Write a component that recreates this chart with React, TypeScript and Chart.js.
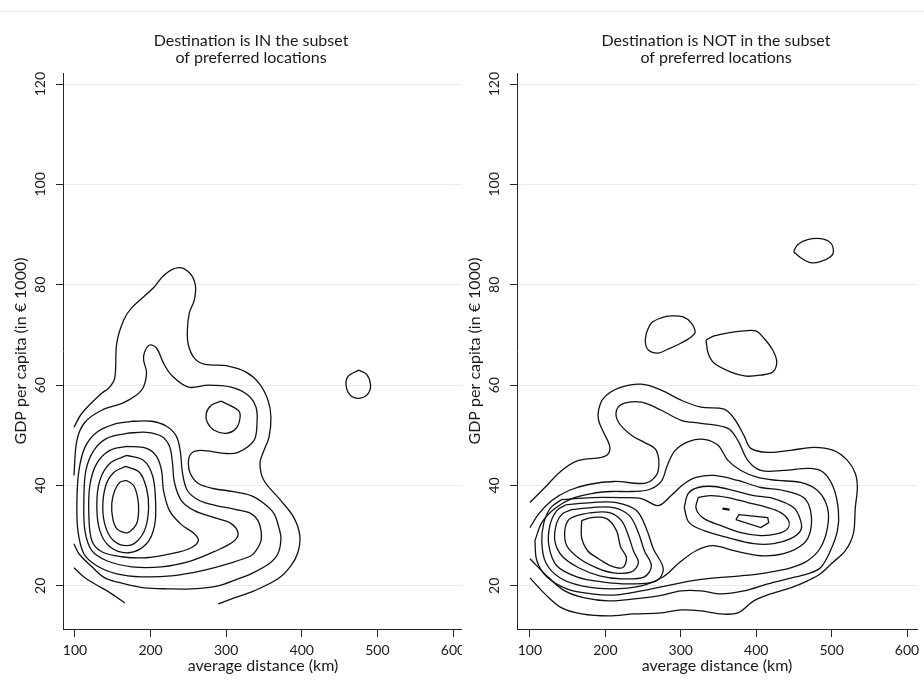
import React, { useEffect, useRef } from "react";
import { Chart, registerables } from "chart.js";
Chart.register(...registerables);

type P = [number, number];

const FONT = "Lato";
const TEXT = "#1a1a1a";
const AXIS = "#262626";
const GRID = "#e3ecee";
const LINE = "#111111";

const xTicks = [100, 200, 300, 400, 500, 600];
const yTicks = [20, 40, 60, 80, 100, 120];
const yMin = 11.4;
const yMax = 122.2;

const titleIn = ["Destination is IN the subset", "of preferred locations"];
const titleOut = ["Destination is NOT in the subset", "of preferred locations"];
const xTitle = "average distance (km)";
const yTitle = "GDP per capita (in \u20ac 1000)";

// ---------- Left panel: destination IN the subset ----------
const inLevel1a: P[] = [[98.7,51.6],[109.2,54.4],[135.5,58.4],[144.7,59.4],[152.6,61.4],[155.3,68.4],[164.5,73],[175,75.4],[203.9,79.4],[218.4,82],[236.8,83.4],[251.3,82.4],[259.2,80],[257.9,77],[251.3,74.4],[248.7,71],[250,68],[257.9,65.4],[271.1,64.2],[302.6,63.8],[326.3,62.6],[343.4,60.4],[355.3,57],[359.2,53.6],[356.6,49.6],[350,47],[344.7,44.4],[350,41],[372.4,37],[389.5,33.6],[397.4,30],[394.7,26.6],[385.5,24],[368.4,21.4],[336.8,19],[310.5,17.6],[289.5,16.4]];
const inLevel1b: P[] = [[98.7,23.6],[113.2,21.6],[135.5,19.6],[148.7,18.4],[165.8,16.6]];
const inLevel2: P[] = [[98.7,42],[102.6,49],[113.2,52.6],[135.5,55],[165.8,56.6],[188.2,59],[194.7,62.4],[190.8,65],[192.1,66.6],[198.7,68],[207.9,67.4],[217.1,64.4],[227.6,62],[250,59.6],[276.3,60],[306.6,59.6],[328.9,58],[339.5,55.6],[340.8,52.4],[336.8,49],[315.8,46.6],[297.4,46.4],[267.1,47],[253.9,46.4],[250,44.6],[252.6,42.4],[263.2,40.4],[282.9,39.4],[309.2,38.8],[332.9,38],[350,36.4],[363.2,34.4],[369.7,31.6],[372.4,29.4],[368.4,26.4],[356.6,24.4],[332.9,22.4],[315.8,21.4],[289.5,20],[253.9,19.4],[223.7,19.4],[192.1,19.6],[165.8,20.4],[139.5,21.6],[122.4,23.8],[105.3,26.4],[98.7,28.4]];
const inLevel3: P[] = [[175,52.8],[201.3,52.8],[221.1,51.8],[234.2,49.8],[239.5,46.6],[242.1,42.6],[248.7,39],[264.5,37],[286.8,36],[313.2,35.2],[332.9,34.4],[342.1,33],[346.1,31],[346.1,29],[339.5,27],[332.9,26],[306.6,24.6],[267.1,23],[227.6,22],[188.2,21.8],[155.3,22.4],[128.9,24],[111.8,26.4],[103.9,31],[102.6,37],[105.3,43],[113.2,47.6],[128.9,50.6],[151.3,52.2]];
const inLevel4: P[] = [[168.4,50.4],[194.7,50.6],[214.5,49.8],[225,47.8],[228.9,44.6],[231.6,40.6],[240.8,37],[257.9,35],[284.2,33.6],[306.6,32.4],[315.8,30.4],[309.2,28.8],[286.8,27],[253.9,25],[214.5,23.8],[175,23.8],[142.1,25],[122.4,27],[113.2,31],[111.8,37],[114.5,43],[125,47],[142.1,49.4]];
const inLevel5: P[] = [[168.4,47.8],[194.7,47.4],[207.9,45.8],[214.5,43],[217.1,39],[225,35],[240.8,32.2],[257.9,30.4],[263.2,29],[253.9,27.6],[227.6,26.4],[194.7,25.6],[161.8,25.8],[135.5,26.8],[122.4,29],[118.4,34],[119.7,40],[128.9,44.4],[146.1,47]];
const inLevel6: P[] = [[168.4,46],[190.8,45],[202.6,42],[206.6,37],[205.3,32],[194.7,28.4],[171.1,26.6],[146.1,27.8],[132.9,31],[128.9,36],[132.9,41],[146.1,44.4]];
const inLevel7: P[] = [[167.1,43.8],[185.5,42.6],[194.7,39.4],[197.4,35.6],[193.4,31.6],[182.9,29],[168.4,28],[151.3,29],[140.8,31.6],[136.8,35.6],[140.8,40],[151.3,42.6]];
const inLevel8: P[] = [[168.4,41],[177.6,40],[182.9,37.6],[184.2,35],[181.6,32.4],[172.4,30.8],[165.8,30.6],[155.3,31.4],[150,33.4],[148.7,36.4],[152.6,39],[159.2,40.6]];
const inIslandA: P[] = [[293.4,56.8],[315.8,55],[318.4,53.6],[313.2,51.4],[300,50.4],[284.2,51],[275,52.6],[273.7,54.4],[280.3,56]];
const inIslandB: P[] = [[475,63],[485.5,62.2],[490.8,60.2],[488.2,58.4],[477.6,57.4],[465.8,57.8],[459.2,59.4],[460.5,61.6]];

// ---------- Right panel: destination NOT in the subset ----------
const outLevel1: P[] = [[100,36.6],[119.8,39.6],[142.2,43],[164.6,45],[195,45.6],[204.2,46.4],[205.5,48],[197.6,50.6],[191,53],[191,55],[197.6,57.4],[217.4,59.4],[247.8,60.2],[274.1,59],[300.5,57],[326.9,55.6],[357.3,55.2],[370.5,53.4],[383.7,50],[392.9,47.4],[415.3,46.6],[445.7,47],[476,47.6],[502.4,47],[520.9,45],[531.4,42.4],[534.1,39.6],[531.4,35.6],[528.8,30.4],[518.2,27],[501.1,24.6],[485.2,22.4],[468.1,21],[445.7,19.6],[419.3,18.4],[396.8,17],[375.7,14.6],[353.3,14.4],[326.9,15],[300.5,15.2],[274.1,14.6],[238.5,14.4],[204.2,14],[168.6,14.4],[142.2,15.6],[119.8,18.4],[100,21.6]];
const outLevel2: P[] = [[100,31.6],[111.9,34.4],[129,37],[151.5,39],[177.8,40.2],[212.1,40.8],[247.8,40.4],[261,41],[270.2,43],[267.5,47],[251.7,48.6],[234.6,50],[217.4,52.6],[214.8,55],[225.3,56.4],[247.8,56.6],[274.1,55],[300.5,53],[326.9,52.4],[362.5,51.4],[375.7,49],[388.9,45],[406.1,43],[436.4,43],[472,43.4],[489.2,42.6],[502.4,39.6],[509,35],[507.7,31],[498.4,27],[485.2,23.6],[468.1,22.4],[441.7,21.4],[415.3,20.4],[383.7,19],[353.3,18.4],[326.9,19],[300.5,19],[270.2,18],[238.5,17.4],[204.2,17],[172.6,17.6],[146.2,19],[125.1,21.6],[100,25.4]];
const outLevel3: P[] = [[106.6,29],[115.8,32.6],[133,35.4],[155.4,37.4],[181.8,38.4],[208.2,38.8],[234.6,38.8],[258.3,39.2],[274.1,40.8],[282.1,44],[292.6,47],[311.1,48.8],[330.9,49.2],[349.4,48],[362.5,45],[379.7,43],[402.1,41.6],[428.5,41],[458.9,40.6],[481.3,39],[494.5,35.6],[494.5,31.6],[485.2,27.6],[468.1,25],[445.7,23.6],[412.7,22.6],[379.7,22],[346.7,21.6],[313.7,21],[280.7,20],[247.8,19],[214.8,18.2],[181.8,18.4],[148.8,19.4],[122.4,21.8],[109.2,25]];
const outLevel4: P[] = [[142.2,37.2],[181.8,37.6],[221.4,37.6],[247.8,37.4],[270.2,36],[287.3,38],[303.2,40.2],[320.3,41.6],[344.1,42],[375.7,41],[406.1,39.6],[436.4,39],[462.8,37.6],[472,35],[472,31],[462.8,28.4],[436.4,26.4],[406.1,26],[370.5,27],[342.8,28],[320.3,27],[297.9,24.6],[276.8,21.8],[247.8,20],[208.2,19.4],[168.6,20],[139.6,21.6],[121.1,24.6],[115.8,28.6],[118.5,32.6],[127.7,35.6]];
const outLevel5L: P[] = [[148.8,36.2],[181.8,36.6],[214.8,36.6],[241.2,35],[254.4,31.4],[263.6,27.4],[276.8,23.4],[267.5,21],[234.6,20.4],[195,20.8],[162,21.8],[135.6,24],[125.1,28],[126.4,32],[135.6,35]];
const outLevel6L: P[] = [[155.4,35.2],[181.8,35.6],[210.8,35.6],[231.9,34],[243.8,30.6],[251.7,27],[261,24],[251.7,21.8],[221.4,21.4],[192.4,22],[164.6,23.6],[142.2,26],[133,29],[135.6,32.6],[143.5,34.4]];
const outLevel7L: P[] = [[162,34],[181.8,34.6],[205.5,34.6],[221.4,33],[230.6,30],[237.2,27],[243.8,24.6],[234.6,22.8],[210.8,22.6],[188.4,23.6],[166,25.4],[148.8,28],[146.2,31],[151.5,33.2]];
const outLevel8L: P[] = [[168.6,33],[181.8,33.6],[201.6,33.4],[214.8,31],[220.1,27.8],[228,25.6],[222.7,23.6],[206.9,24],[191,25.4],[176.5,27],[168.6,29.6]];
const outLevel5R: P[] = [[304.5,35.6],[309.8,38.4],[323,39.6],[344.1,39.8],[370.5,39],[396.8,38],[423.2,37.4],[449.6,35.6],[458.9,33],[458.9,31],[445.7,29.4],[423.2,28.4],[396.8,28.4],[362.5,29.6],[330.9,31],[311.1,32.6]];
const outLevel6R: P[] = [[323,37.6],[340.1,38],[362.5,37.6],[388.9,36.6],[415.3,35.6],[432.5,34.6],[443,33],[441.7,31.4],[428.5,30.4],[406.1,30],[379.7,30.6],[353.3,32],[330.9,33.4],[320.3,35.4]];
const outLevel7R: P[] = [[373.1,33.2],[377.1,34.2],[415.3,33.6],[416.6,32.6],[406.1,31.6]];
const outLevel7Rb: P[] = [[356,35.5],[363.9,35.3],[363.9,35.1],[356,35.3]];
const outIsland1: P[] = [[449.6,86.6],[454.9,88],[468.1,89],[485.2,89.2],[498.4,88.4],[502.4,86.6],[498.4,85.6],[485.2,84.6],[472,84.4],[458.9,85.4]];
const outIsland2: P[] = [[254.4,70.4],[261,72.4],[274.1,73.4],[287.3,73.8],[303.2,73.6],[313.7,72.4],[319,70.6],[313.7,69.6],[300.5,68.4],[283.4,67.2],[270.2,66.4],[257,67],[253,68.6]];
const outIsland3: P[] = [[333.5,69],[344.1,69.8],[362.5,70.4],[383.7,70.8],[399.5,70.8],[410,69.4],[421.9,67],[427.2,64.6],[421.9,62.6],[406.1,62],[386.3,61.8],[366.5,62.6],[344.1,64.4],[336.2,66.4]];

type Line = { pts: P[]; closed: boolean; tension?: number };

const linesIn: Line[] = [
  { pts: inLevel1a, closed: false },
  { pts: inLevel1b, closed: false },
  { pts: inLevel2, closed: false },
  { pts: inLevel3, closed: true },
  { pts: inLevel4, closed: true },
  { pts: inLevel5, closed: true },
  { pts: inLevel6, closed: true },
  { pts: inLevel7, closed: true },
  { pts: inLevel8, closed: true },
  { pts: inIslandA, closed: true },
  { pts: inIslandB, closed: true },
];

const linesOut: Line[] = [
  { pts: outLevel1, closed: false },
  { pts: outLevel2, closed: false },
  { pts: outLevel3, closed: true },
  { pts: outLevel4, closed: true },
  { pts: outLevel5L, closed: true },
  { pts: outLevel6L, closed: true },
  { pts: outLevel7L, closed: true },
  { pts: outLevel8L, closed: true },
  { pts: outLevel5R, closed: true },
  { pts: outLevel6R, closed: true },
  { pts: outLevel7R, closed: true, tension: 0 },
  { pts: outLevel7Rb, closed: true, tension: 0 },
  { pts: outIsland1, closed: true },
  { pts: outIsland2, closed: true },
  { pts: outIsland3, closed: true },
];

type PanelProps = {
  left: number;
  canvasWidth: number;
  padLeft: number;
  rightGap: number;
  xMin: number;
  xMax: number;
  title: string[];
  lines: Line[];
};

function Panel({ left, canvasWidth, padLeft, rightGap, xMin, xMax, title, lines }: PanelProps) {
  const ref = useRef<HTMLCanvasElement | null>(null);
  useEffect(() => {
    if (!ref.current) return;
    const datasets = lines.map((l) => ({
      data: (l.closed ? [...l.pts, l.pts[0]] : l.pts).map(([x, y]) => ({ x, y })),
      showLine: true,
      borderColor: LINE,
      borderWidth: 1.3,
      pointRadius: 0,
      pointHoverRadius: 0,
      tension: l.tension ?? 0.35,
      fill: false,
    }));
    const chart = new Chart(ref.current, {
      type: "scatter",
      data: { datasets },
      options: {
        animation: false,
        responsive: false,
        events: [],
        layout: { padding: { left: padLeft, right: 0, top: 0, bottom: 4 } },
        plugins: {
          legend: { display: false },
          tooltip: { enabled: false },
          title: {
            display: true,
            text: title,
            color: TEXT,
            font: { family: FONT, size: 16, weight: "normal", lineHeight: 1.07 },
            padding: { top: 32.4, bottom: 6.4 },
          },
        },
        scales: {
          x: {
            type: "linear",
            min: xMin,
            max: xMax,
            afterBuildTicks: (s: any) => {
              s.ticks = xTicks.map((v) => ({ value: v }));
            },
            ticks: {
              color: TEXT,
              font: { family: FONT, size: 14 },
              padding: 5,
              maxRotation: 0,
              autoSkip: false,
            },
            grid: { drawOnChartArea: false, drawTicks: true, tickLength: 8, tickColor: AXIS },
            border: { display: true, color: AXIS, width: 1 },
            title: {
              display: true,
              text: xTitle,
              color: TEXT,
              font: { family: FONT, size: 16 },
              padding: { top: -8, bottom: 5 },
            },
          },
          y: {
            type: "linear",
            min: yMin,
            max: yMax,
            afterBuildTicks: (s: any) => {
              s.ticks = yTicks.map((v) => ({ value: v }));
            },
            ticks: {
              color: TEXT,
              font: { family: FONT, size: 14 },
              padding: 3,
              minRotation: 90,
              maxRotation: 90,
              crossAlign: "center",
              autoSkip: false,
            },
            grid: { color: GRID, drawTicks: true, tickLength: 7, tickColor: AXIS },
            border: { display: true, color: AXIS, width: 1 },
            title: {
              display: true,
              text: yTitle,
              color: TEXT,
              font: { family: FONT, size: 16 },
              padding: { top: 0, bottom: 3 },
            },
          },
          gap: {
            type: "linear",
            position: "right",
            display: true,
            grid: { display: false },
            border: { display: false },
            ticks: { display: false },
            afterFit: (s: any) => {
              s.width = rightGap;
            },
          },
        },
      } as any,
    });
    return () => chart.destroy();
  }, []);
  return (
    <div style={{ position: "absolute", left, top: 0, width: 462, height: 684, overflow: "hidden" }}>
      <canvas ref={ref} width={canvasWidth} height={684} style={{ display: "block", width: canvasWidth, height: 684 }} />
    </div>
  );
}

export default function App() {
  return (
    <div style={{ position: "absolute", left: 0, top: 0, width: 924, height: 684, background: "#ffffff", overflow: "hidden" }}>
      <div style={{ position: "absolute", left: 0, top: 11, width: 924, height: 1, background: "#e6eaed" }} />
      <Panel left={0} canvasWidth={491} padLeft={11} rightGap={28} xMin={84.2} xMax={613.2} title={titleIn} lines={linesIn} />
      <Panel left={462} canvasWidth={505} padLeft={3} rightGap={50} xMin={82.85} xMax={613.2} title={titleOut} lines={linesOut} />
    </div>
  );
}
